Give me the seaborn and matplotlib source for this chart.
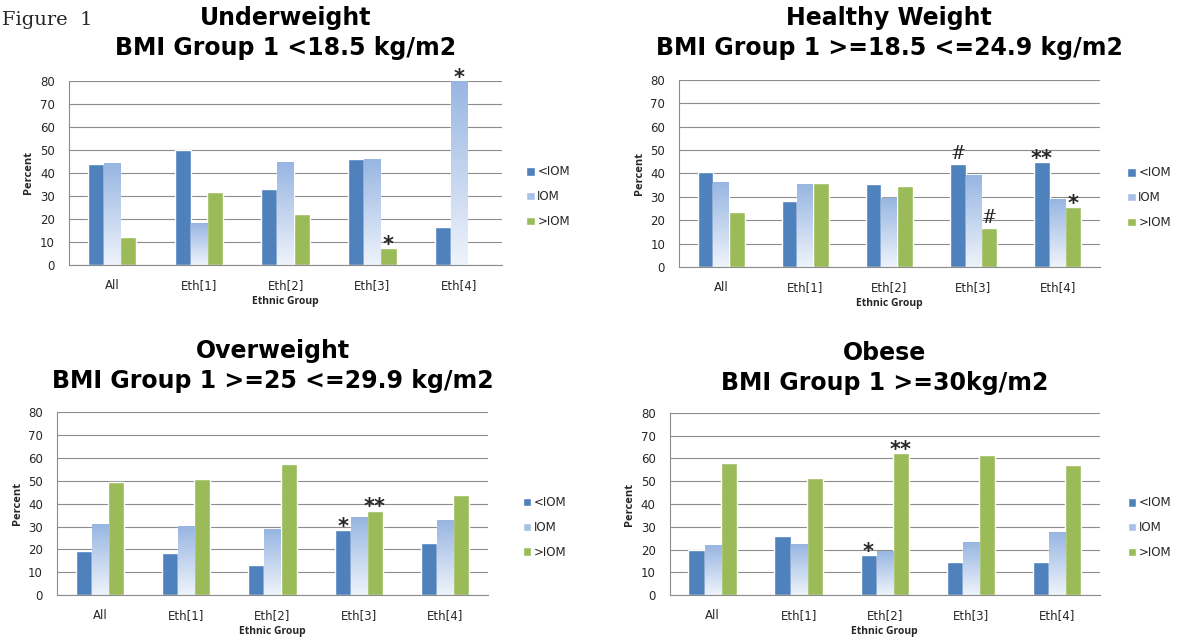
import numpy as np
import pandas as pd
import matplotlib
matplotlib.use('Agg')
import matplotlib.pyplot as plt
import seaborn as sns

# categorias y series
groups = ['All', 'Eth[1]', 'Eth[2]', 'Eth[3]', 'Eth[4]']
series = ['<IOM', 'IOM', '>IOM']

titles = ['Underweight\nBMI Group 1 <18.5 kg/m2',
          'Healthy Weight\nBMI Group 1 >=18.5 <=24.9 kg/m2',
          'Overweight\nBMI Group 1 >=25 <=29.9 kg/m2',
          'Obese\nBMI Group 1 >=30kg/m2']

# valores (porcentaje) por panel: <IOM, IOM, >IOM
under_below = [44, 50, 33, 46, 16.5]
under_iom = [44, 18, 44.5, 46, 80]
under_above = [12, 31.5, 22, 7.5, 0]

healthy_below = [40.5, 28, 35.5, 44, 45]
healthy_iom = [36, 35.5, 29.5, 39, 29]
healthy_above = [23.5, 36, 34.5, 16.5, 25.5]

over_below = [19.5, 18.5, 13, 28.5, 23]
over_iom = [31, 30, 28.5, 34, 32.5]
over_above = [49.5, 51, 57.5, 37, 44]

obese_below = [20, 26, 17.5, 14.5, 14.5]
obese_iom = [21.5, 22, 19, 23, 27.5]
obese_above = [58, 51.5, 62.5, 61.5, 57]

panels = [
    [under_below, under_iom, under_above],
    [healthy_below, healthy_iom, healthy_above],
    [over_below, over_iom, over_above],
    [obese_below, obese_iom, obese_above],
]

# marcas de significancia: (panel, grupo, serie, texto)
marks = [
    (0, 'Eth[3]', '>IOM', '*'), (0, 'Eth[4]', 'IOM', '*'),
    (1, 'Eth[3]', '<IOM', '#'), (1, 'Eth[3]', '>IOM', '#'),
    (1, 'Eth[4]', '<IOM', '**'), (1, 'Eth[4]', '>IOM', '*'),
    (2, 'Eth[3]', '<IOM', '*'), (2, 'Eth[3]', '>IOM', '**'),
    (3, 'Eth[2]', '<IOM', '*'), (3, 'Eth[2]', '>IOM', '**'),
]

sns.set_style('white')
plt.rcParams['font.family'] = ['DejaVu Sans']

palette = {'<IOM': '#4F81BD', 'IOM': '#A7C0E6', '>IOM': '#9BBB59'}
grad_cmap = matplotlib.colors.LinearSegmentedColormap.from_list('iom', ['#EEF3FB', '#98B6E2'])

fig = plt.figure(figsize=(11.85, 6.4), dpi=100)

# posiciones de los ejes [izq, abajo, ancho, alto]
boxes = [[0.058, 0.586, 0.366, 0.288],
         [0.573, 0.583, 0.355, 0.292],
         [0.048, 0.070, 0.364, 0.286],
         [0.565, 0.070, 0.363, 0.285]]
title_y = [0.99, 0.99, 0.47, 0.467]
legend_x = [1.03, 1.04, 1.055, 1.04]

for i, vals in enumerate(panels):
    rows = []
    for s, v in zip(series, vals):
        for g, val in zip(groups, v):
            rows.append({'group': g, 'series': s, 'pct': val})
    df = pd.DataFrame(rows)

    ax = fig.add_axes(boxes[i])
    sns.barplot(data=df, x='group', y='pct', hue='series', order=groups,
                hue_order=series, palette=palette, width=0.56, gap=0,
                saturation=1, ax=ax, zorder=2)
    ax.set_ylim(0, 80)
    ax.set_xlim(-0.5, 4.5)
    ax.set_yticks(range(0, 81, 10))
    ax.yaxis.grid(True, color='#8c8c8c', linewidth=0.8, zorder=0)
    ax.set_axisbelow(True)
    for sp in ['top', 'right']:
        ax.spines[sp].set_visible(False)
    for sp in ['left', 'bottom']:
        ax.spines[sp].set_color('#8c8c8c')
    ax.tick_params(axis='x', which='major', length=0, labelsize=8.5, pad=10)
    ax.tick_params(axis='y', length=4, color='#8c8c8c', labelsize=8.5, pad=6)
    ax.set_xticks(np.arange(-0.5, 5, 1), minor=True)
    ax.tick_params(axis='x', which='minor', length=4, color='#8c8c8c')
    ax.set_xlabel('Ethnic Group', fontsize=7.5, fontweight='bold', labelpad=3,
                  family='Open Sans')
    ax.set_ylabel('Percent', fontsize=8, fontweight='bold', labelpad=4,
                  family='Open Sans')

    # degradado en las barras IOM
    grad = np.linspace(0, 1, 100).reshape(-1, 1)
    for bar in ax.containers[1]:
        x0, w, h = bar.get_x(), bar.get_width(), bar.get_height()
        if h <= 0:
            continue
        bar.set_facecolor('none')
        ax.imshow(grad, extent=[x0, x0 + w, 0, h], origin='lower', aspect='auto',
                  cmap=grad_cmap, zorder=2)
    ax.set_xlim(-0.5, 4.5)
    ax.set_ylim(0, 80)

    # marcas
    for p, g, s, txt in marks:
        if p != i:
            continue
        bar = ax.containers[series.index(s)][groups.index(g)]
        xc = bar.get_x() + bar.get_width() / 2
        if txt == '#':
            ax.text(xc, bar.get_height() + 0.5, txt, ha='center', va='bottom',
                    fontsize=13, family='DejaVu Serif')
        else:
            ax.text(xc, bar.get_height() - 3.0, txt, ha='center', va='bottom',
                    fontsize=15, fontweight='bold', family='DejaVu Sans')

    handles, labels = ax.get_legend_handles_labels()
    ax.legend(handles, labels, loc='center left', bbox_to_anchor=(legend_x[i], 0.37),
              frameon=False, fontsize=8.5, handlelength=0.75, handleheight=0.75,
              handletextpad=0.2, labelspacing=1.0)

    cx = boxes[i][0] + boxes[i][2] / 2
    fig.text(cx, title_y[i], titles[i], ha='center', va='top', fontsize=17,
             fontweight='bold', linespacing=1.3, color='black')

fig.text(0.002, 0.968, 'Figure  1', ha='left', va='center', fontsize=14,
         family='DejaVu Serif')

fig.savefig('out.png', dpi=100)
